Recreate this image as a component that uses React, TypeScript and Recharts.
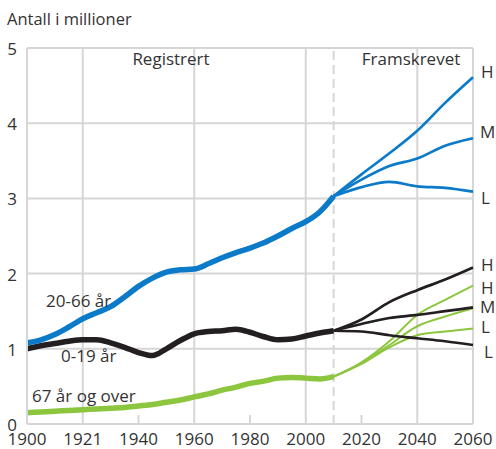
import { LineChart, Line, XAxis, YAxis, CartesianGrid, ReferenceLine } from "recharts";

const regYears = [1900, 1905, 1910, 1915, 1920, 1925, 1930, 1935, 1940, 1945, 1950, 1955, 1960, 1965, 1970, 1975, 1980, 1985, 1990, 1995, 2000, 2005, 2010];
const age20to66 = [1.08, 1.12, 1.19, 1.29, 1.4, 1.48, 1.56, 1.69, 1.83, 1.94, 2.02, 2.05, 2.06, 2.13, 2.21, 2.28, 2.34, 2.41, 2.5, 2.6, 2.69, 2.82, 3.03];
const age0to19 = [1.0, 1.04, 1.07, 1.1, 1.12, 1.12, 1.08, 1.02, 0.95, 0.91, 1.0, 1.11, 1.2, 1.23, 1.24, 1.26, 1.22, 1.16, 1.12, 1.13, 1.17, 1.21, 1.24];
const age67plus = [0.15, 0.16, 0.17, 0.18, 0.19, 0.2, 0.21, 0.22, 0.24, 0.26, 0.29, 0.32, 0.36, 0.4, 0.45, 0.49, 0.54, 0.57, 0.61, 0.62, 0.61, 0.6, 0.63];

const projYears = [2010, 2020, 2030, 2040, 2050, 2060];
const workH = [3.03, 3.32, 3.6, 3.9, 4.27, 4.61];
const workM = [3.03, 3.25, 3.43, 3.53, 3.7, 3.8];
const workL = [3.03, 3.15, 3.22, 3.16, 3.14, 3.09];
const youngH = [1.24, 1.39, 1.62, 1.78, 1.92, 2.08];
const youngM = [1.24, 1.33, 1.41, 1.45, 1.5, 1.55];
const youngL = [1.24, 1.23, 1.18, 1.14, 1.1, 1.05];
const oldH = [0.63, 0.82, 1.1, 1.45, 1.65, 1.84];
const oldM = [0.63, 0.81, 1.05, 1.3, 1.43, 1.54];
const oldL = [0.63, 0.8, 1.02, 1.18, 1.23, 1.27];

const xTicks = [1900, 1920, 1940, 1960, 1980, 2000, 2020, 2040, 2060];
const xLabels: Record<number, string> = { 1920: "1921" };
const yTicks = [0, 1, 2, 3, 4, 5];
const gridYears = [1920, 1960, 2000, 2040, 2060];
const minorYears = [1940, 1980, 2020];

const registered = regYears.map((year, i) => ({
  year,
  work: age20to66[i],
  young: age0to19[i],
  old: age67plus[i],
}));

const projected = projYears.map((year, i) => ({
  year,
  workH: workH[i],
  workM: workM[i],
  workL: workL[i],
  youngH: youngH[i],
  youngM: youngM[i],
  youngL: youngL[i],
  oldH: oldH[i],
  oldM: oldM[i],
  oldL: oldL[i],
}));

const BLUE = "#0a7ac9";
const BLACK = "#231f20";
const GREEN = "#8cc63f";
const GRID = "#d6d6d6";
const TEXT = "#333333";
const FONT = "'Open Sans', sans-serif";

const labels = [
  { text: "Antall i millioner", x: 7, y: 25, anchor: "start", size: 16.5 },
  { text: "Registrert", x: 171, y: 65, anchor: "middle", size: 17 },
  { text: "Framskrevet", x: 411, y: 65, anchor: "middle", size: 17 },
  { text: "20-66 år", x: 46, y: 307, anchor: "start", size: 17 },
  { text: "0-19 år", x: 61, y: 362, anchor: "start", size: 17 },
  { text: "67 år og over", x: 32, y: 402, anchor: "start", size: 17 },
  { text: "H", x: 481, y: 78, anchor: "start", size: 17 },
  { text: "M", x: 480, y: 138, anchor: "start", size: 17 },
  { text: "L", x: 481, y: 204, anchor: "start", size: 17 },
  { text: "H", x: 481, y: 271, anchor: "start", size: 17 },
  { text: "H", x: 481, y: 294, anchor: "start", size: 17 },
  { text: "M", x: 480, y: 313, anchor: "start", size: 17 },
  { text: "L", x: 481, y: 333, anchor: "start", size: 17 },
  { text: "L", x: 484, y: 358, anchor: "start", size: 17 },
];

export default function App() {
  return (
    <div style={{ position: "absolute", left: 0, top: 0, width: 496, height: 449, background: "#fff" }}>
      <LineChart
        width={496}
        height={449}
        margin={{ top: 48, right: 23, left: 0, bottom: 0 }}
        style={{ fontFamily: FONT }}
      >
        <CartesianGrid vertical={false} stroke={GRID} strokeWidth={2} />
        <XAxis
          type="number"
          dataKey="year"
          domain={[1900, 2060]}
          ticks={xTicks}
          tickFormatter={(v) => xLabels[v] ?? String(v)}
          allowDuplicatedCategory={false}
          height={25}
          tickSize={0}
          tickMargin={9}
          interval={0}
          axisLine={{ stroke: GRID, strokeWidth: 2 }}
          tick={{ fill: TEXT, fontSize: 17 }}
        />
        <YAxis
          type="number"
          domain={[0, 5]}
          ticks={yTicks}
          width={27}
          tickSize={0}
          tickMargin={10}
          axisLine={{ stroke: GRID, strokeWidth: 2 }}
          tick={{ fill: TEXT, fontSize: 17, dy: 1 }}
        />
        {gridYears.map((yr) => (
          <ReferenceLine key={yr} x={yr} stroke={GRID} strokeWidth={2} />
        ))}
        {minorYears.map((yr) => (
          <ReferenceLine
            key={"m" + yr}
            segment={[{ x: yr, y: 0 }, { x: yr, y: 0.12 }]}
            stroke={GRID}
            strokeWidth={2}
          />
        ))}
        <ReferenceLine x={2010} stroke={GRID} strokeWidth={2} strokeDasharray="9 5" />

        <Line data={projected} dataKey="oldH" type="monotone" stroke={GREEN} strokeWidth={2} dot={false} isAnimationActive={false} />
        <Line data={projected} dataKey="oldM" type="monotone" stroke={GREEN} strokeWidth={2} dot={false} isAnimationActive={false} />
        <Line data={projected} dataKey="oldL" type="monotone" stroke={GREEN} strokeWidth={2} dot={false} isAnimationActive={false} />
        <Line data={projected} dataKey="youngH" type="monotone" stroke={BLACK} strokeWidth={2.7} dot={false} isAnimationActive={false} />
        <Line data={projected} dataKey="youngM" type="monotone" stroke={BLACK} strokeWidth={2.7} dot={false} isAnimationActive={false} />
        <Line data={projected} dataKey="youngL" type="monotone" stroke={BLACK} strokeWidth={2.7} dot={false} isAnimationActive={false} />
        <Line data={projected} dataKey="workH" type="monotone" stroke={BLUE} strokeWidth={2.7} dot={false} isAnimationActive={false} />
        <Line data={projected} dataKey="workM" type="monotone" stroke={BLUE} strokeWidth={2.7} dot={false} isAnimationActive={false} />
        <Line data={projected} dataKey="workL" type="monotone" stroke={BLUE} strokeWidth={2.7} dot={false} isAnimationActive={false} />

        <Line data={registered} dataKey="old" type="monotone" stroke={GREEN} strokeWidth={5.5} dot={false} isAnimationActive={false} />
        <Line data={registered} dataKey="young" type="monotone" stroke={BLACK} strokeWidth={5.5} dot={false} isAnimationActive={false} />
        <Line data={registered} dataKey="work" type="monotone" stroke={BLUE} strokeWidth={5.5} dot={false} isAnimationActive={false} />
      </LineChart>
      <svg
        width={496}
        height={449}
        style={{ position: "absolute", left: 0, top: 0, pointerEvents: "none" }}
      >
        {labels.map((l, i) => (
          <text
            key={i}
            x={l.x}
            y={l.y}
            textAnchor={l.anchor as "start" | "middle"}
            fill={TEXT}
            fontSize={l.size}
            fontFamily={FONT}
          >
            {l.text}
          </text>
        ))}
      </svg>
    </div>
  );
}
